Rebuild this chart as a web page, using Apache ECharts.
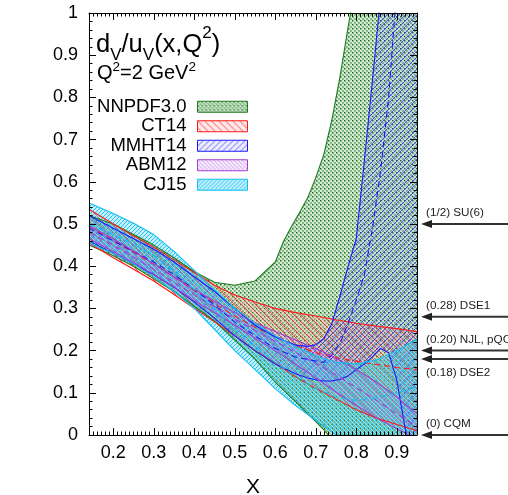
<!DOCTYPE html>
<html>
<head>
<meta charset="utf-8">
<script src="https://cdn.jsdelivr.net/npm/echarts@6/dist/echarts.min.js"></script>
<style>
  html, body { margin: 0; padding: 0; background: #fff; }
  #chart { width: 508px; height: 495px; }
</style>
</head>
<body>
<div id="chart"></div>
<script>
// d_V/u_V(x, Q^2) at Q^2 = 2 GeV^2 : uncertainty bands of five PDF sets

const X_MIN = 0.14, X_MAX = 0.95;
const xTicks = [0.2, 0.3, 0.4, 0.5, 0.6, 0.7, 0.8, 0.9];
const yTicks = [0, 0.1, 0.2, 0.3, 0.4, 0.5, 0.6, 0.7, 0.8, 0.9, 1];

// NNPDF3.0
const nnpdfX    = [0.14, 0.2, 0.25, 0.3, 0.35, 0.4, 0.45, 0.5, 0.55, 0.6, 0.62, 0.64, 0.66, 0.68, 0.7, 0.72, 0.74, 0.76, 0.78, 0.8, 0.85, 0.9, 0.95];
const nnpdfLow  = [0.45, 0.425, 0.40, 0.37, 0.34, 0.305, 0.27, 0.225, 0.18, 0.125, 0.107, 0.088, 0.07, 0.05, 0.032, 0.012, -0.01, -0.035, -0.06, -0.09, -0.15, -0.22, -0.3];
const nnpdfHigh = [0.52, 0.50, 0.475, 0.45, 0.42, 0.387, 0.362, 0.355, 0.365, 0.41, 0.458, 0.494, 0.527, 0.562, 0.61, 0.665, 0.748, 0.85, 0.968, 1.07, 1.4, 1.8, 2.2];

// CT14
const ct14X    = [0.14, 0.2, 0.25, 0.3, 0.35, 0.4, 0.45, 0.5, 0.55, 0.6, 0.65, 0.7, 0.75, 0.8, 0.85, 0.9, 0.95];
const ct14Low  = [0.455, 0.42, 0.393, 0.365, 0.333, 0.30, 0.268, 0.235, 0.2, 0.17, 0.138, 0.11, 0.085, 0.06, 0.04, 0.025, 0.01];
const ct14Mid  = [0.495, 0.46, 0.433, 0.405, 0.374, 0.343, 0.312, 0.282, 0.255, 0.235, 0.212, 0.195, 0.183, 0.175, 0.167, 0.16, 0.155];
const ct14High = [0.535, 0.50, 0.472, 0.445, 0.415, 0.385, 0.355, 0.332, 0.315, 0.30, 0.29, 0.282, 0.273, 0.265, 0.258, 0.252, 0.245];

// MMHT14
const mmhtX    = [0.14, 0.2, 0.25, 0.3, 0.35, 0.4, 0.45, 0.5, 0.55, 0.6, 0.65, 0.68, 0.7, 0.72, 0.74, 0.76, 0.78, 0.8, 0.82, 0.84, 0.86, 0.88, 0.9, 0.92, 0.95];
const mmhtLow  = [0.46, 0.43, 0.405, 0.38, 0.35, 0.315, 0.277, 0.235, 0.2, 0.168, 0.145, 0.135, 0.131, 0.128, 0.128, 0.132, 0.14, 0.155, 0.168, 0.185, 0.205, 0.195, 0.13, 0.02, -0.1];
const mmhtHigh = [0.52, 0.49, 0.465, 0.44, 0.41, 0.375, 0.34, 0.30, 0.26, 0.232, 0.213, 0.21, 0.214, 0.228, 0.265, 0.33, 0.40, 0.465, 0.65, 0.84, 1.04, 1.25, 1.5, 1.75, 2.1];
const mmhtMidX = [0.14, 0.2, 0.25, 0.3, 0.35, 0.4, 0.45, 0.5, 0.55, 0.6, 0.65, 0.7, 0.72, 0.74, 0.76, 0.78, 0.8, 0.82, 0.84, 0.86, 0.88, 0.9];
const mmhtMid  = [0.49, 0.46, 0.435, 0.41, 0.38, 0.345, 0.308, 0.268, 0.235, 0.205, 0.185, 0.175, 0.172, 0.19, 0.218, 0.265, 0.32, 0.38, 0.49, 0.625, 0.8, 1.06];

// ABM12
const abmX    = [0.14, 0.2, 0.25, 0.3, 0.35, 0.4, 0.45, 0.5, 0.55, 0.6, 0.65, 0.7, 0.75, 0.8, 0.85, 0.9, 0.95];
const abmLow  = [0.465, 0.435, 0.408, 0.38, 0.35, 0.318, 0.29, 0.26, 0.23, 0.2, 0.168, 0.135, 0.102, 0.07, 0.04, 0.015, -0.01];
const abmMid  = [0.48, 0.45, 0.422, 0.392, 0.362, 0.332, 0.303, 0.275, 0.248, 0.222, 0.196, 0.17, 0.142, 0.112, 0.082, 0.05, 0.02];
const abmHigh = [0.495, 0.465, 0.436, 0.405, 0.375, 0.345, 0.317, 0.29, 0.266, 0.245, 0.225, 0.205, 0.182, 0.155, 0.125, 0.09, 0.05];

// CJ15
const cjX    = [0.14, 0.2, 0.25, 0.3, 0.35, 0.4, 0.45, 0.5, 0.55, 0.6, 0.65, 0.7, 0.75, 0.8, 0.85, 0.9, 0.95];
const cjLow  = [0.455, 0.43, 0.405, 0.375, 0.34, 0.30, 0.25, 0.2, 0.155, 0.11, 0.07, 0.035, 0.0, -0.03, -0.06, -0.08, -0.1];
const cjMid  = [0.50, 0.475, 0.452, 0.425, 0.388, 0.345, 0.298, 0.25, 0.21, 0.172, 0.14, 0.11, 0.09, 0.082, 0.088, 0.1, 0.115];
const cjHigh = [0.55, 0.525, 0.502, 0.475, 0.435, 0.39, 0.345, 0.30, 0.265, 0.235, 0.21, 0.188, 0.172, 0.168, 0.178, 0.20, 0.228];

// model predictions for x -> 1
const refValues = [0.5, 0.28, 0.20, 0.18, 0];
const refLabels = ['(1/2) SU(6)', '(0.28) DSE1', '(0.20) NJL, pQCD', '(0.18) DSE2', '(0) CQM'];

const FONT = '"Liberation Sans", Arial, Helvetica, sans-serif';

// ---- fill patterns -------------------------------------------------------
function hatchTile(size, ink, haze, dir) {
  const c = document.createElement('canvas');
  c.width = c.height = size;
  const g = c.getContext('2d');
  if (haze) { g.fillStyle = haze; g.fillRect(0, 0, size, size); }
  g.fillStyle = ink;
  for (let i = 0; i < size; i++) {
    const y = dir === 'back' ? i : size - 1 - i;
    g.fillRect(i, y, 1, 1);
  }
  return { image: c, repeat: 'repeat' };
}
function crossTile() {
  const c = document.createElement('canvas');
  c.width = c.height = 4;
  const g = c.getContext('2d');
  g.fillStyle = 'rgba(110,180,110,0.30)';
  g.fillRect(0, 0, 4, 4);
  g.fillStyle = 'rgba(40,130,40,0.45)';
  g.fillRect(0, 0, 2, 2);
  g.fillRect(2, 2, 2, 2);
  g.fillStyle = 'rgba(10,90,10,0.9)';
  g.fillRect(0, 0, 1, 1);
  return { image: c, repeat: 'repeat' };
}

const sets = [
  { name: 'NNPDF3.0', x: nnpdfX, low: nnpdfLow, high: nnpdfHigh, color: '#1e7b1e', fill: crossTile() },
  { name: 'CT14', x: ct14X, low: ct14Low, high: ct14High, midX: ct14X, mid: ct14Mid, color: '#ff1a1a',
    fill: hatchTile(7, 'rgba(255,30,30,0.75)', 'rgba(255,150,150,0.22)', 'back') },
  { name: 'MMHT14', x: mmhtX, low: mmhtLow, high: mmhtHigh, midX: mmhtMidX, mid: mmhtMid, color: '#1a1aff',
    fill: hatchTile(6, 'rgba(40,40,255,0.7)', 'rgba(130,130,255,0.14)', 'fwd') },
  { name: 'ABM12', x: abmX, low: abmLow, high: abmHigh, midX: abmX, mid: abmMid, color: '#a23cd0',
    fill: hatchTile(4, 'rgba(170,70,220,0.55)', 'rgba(190,130,230,0.12)', 'back') },
  { name: 'CJ15', x: cjX, low: cjLow, high: cjHigh, midX: cjX, mid: cjMid, color: '#12bff0',
    fill: hatchTile(4, 'rgba(0,190,240,0.85)', 'rgba(90,210,250,0.35)', 'fwd') }
];

const zip = (xs, ys) => xs.map((x, i) => [x, ys[i]]);

const series = [];
// hatched bands: one closed polygon per set, lower edge forward, upper edge back
sets.forEach(s => {
  series.push({
    type: 'custom', name: s.name, clip: true, silent: true, z: 2,
    itemStyle: { color: s.color },
    data: s.x.map((x, i) => [x, s.low[i], s.high[i]]),
    encode: { x: 0, y: [1, 2] },
    renderItem(params, api) {
      if (params.dataIndex !== 0) return null;
      const pts = [];
      for (let i = 0; i < s.x.length; i++) pts.push(api.coord([s.x[i], s.low[i]]));
      for (let i = s.x.length - 1; i >= 0; i--) pts.push(api.coord([s.x[i], s.high[i]]));
      return { type: 'polygon', shape: { points: pts }, style: { fill: s.fill, stroke: null } };
    }
  });
});
// band edges and central curves
sets.forEach(s => {
  const edge = { color: s.color, width: 1.1 };
  series.push({ name: s.name + ' low', type: 'line', data: zip(s.x, s.low),
    showSymbol: false, silent: true, lineStyle: edge, z: 3 });
  series.push({ name: s.name + ' high', type: 'line', data: zip(s.x, s.high),
    showSymbol: false, silent: true, lineStyle: edge, z: 3 });
  if (s.mid) {
    series.push({ name: s.name + ' central', type: 'line', data: zip(s.midX, s.mid),
      showSymbol: false, silent: true, lineStyle: { color: s.color, width: 1.1, type: [6, 4] }, z: 3 });
  }
});

// arrows marking the x -> 1 predictions, outside the frame on the right
series.push({
  type: 'custom', name: 'predictions', silent: true, clip: false, z: 5,
  data: refValues.map(v => [X_MAX, v]),
  renderItem(params, api) {
    const v = api.value(1);
    const p = api.coord([api.value(0), v]);
    const tip = p[0] + 4, y = p[1], w = api.getWidth();
    const below = refValues.some(o => o > v && o - v < 0.05);
    return {
      type: 'group',
      children: [
        { type: 'line', shape: { x1: tip + 8, y1: y, x2: w, y2: y }, style: { stroke: '#333', lineWidth: 2 } },
        { type: 'polygon', shape: { points: [[tip, y], [tip + 11, y - 4], [tip + 11, y + 4]] }, style: { fill: '#222' } },
        { type: 'text', x: tip + 5, y: below ? y + 14 : y - 11,
          style: { text: refLabels[params.dataIndex], fill: '#222', fontSize: 11.7, fontFamily: FONT,
                   align: 'left', verticalAlign: 'middle' } }
      ]
    };
  }
});

const xMinor = [];
for (let k = 15; k <= 94; k++) if (k % 10 !== 0) xMinor.push(k / 100);

const axisLine = { show: true, lineStyle: { color: '#000', width: 1 } };
const xBase = { type: 'value', min: X_MIN, max: X_MAX, splitLine: { show: false }, z: 10 };
const yBase = { type: 'value', min: 0, max: 1, interval: 0.1, splitLine: { show: false }, z: 10 };

const option = {
  animation: false,
  backgroundColor: '#fff',
  grid: { left: 89, top: 13, width: 328, height: 422, containLabel: false, outerBoundsMode: 'none' },
  xAxis: [
    Object.assign({}, xBase, {
      position: 'bottom', axisLine,
      axisTick: { inside: true, length: 7, customValues: xTicks, lineStyle: { color: '#000' } },
      axisLabel: { customValues: xTicks, formatter: v => v.toFixed(1), fontSize: 18, fontFamily: FONT, color: '#000', margin: 9 },
      name: 'X', nameLocation: 'middle', nameGap: 42,
      nameTextStyle: { fontSize: 21, fontFamily: FONT, color: '#000' }
    }),
    Object.assign({}, xBase, {
      position: 'bottom', axisLine: { show: false },
      axisTick: { inside: true, length: 3.5, customValues: xMinor, lineStyle: { color: '#000' } },
      axisLabel: { show: false }
    }),
    Object.assign({}, xBase, {
      position: 'top', axisLine,
      axisTick: { inside: true, length: 7, customValues: xTicks, lineStyle: { color: '#000' } },
      axisLabel: { show: false }
    }),
    Object.assign({}, xBase, {
      position: 'top', axisLine: { show: false },
      axisTick: { inside: true, length: 3.5, customValues: xMinor, lineStyle: { color: '#000' } },
      axisLabel: { show: false }
    })
  ],
  yAxis: [
    Object.assign({}, yBase, {
      position: 'left', axisLine,
      axisTick: { inside: true, length: 7, customValues: yTicks, lineStyle: { color: '#000' } },
      minorTick: { show: true, splitNumber: 5, length: 3.5, lineStyle: { color: '#000' } },
      axisLabel: { customValues: yTicks, formatter: v => (v === 0 || v === 1) ? String(v) : v.toFixed(1),
                   fontSize: 18, fontFamily: FONT, color: '#000', margin: 11 }
    }),
    Object.assign({}, yBase, {
      position: 'right', axisLine,
      axisTick: { inside: true, length: 7, customValues: yTicks, lineStyle: { color: '#000' } },
      minorTick: { show: true, splitNumber: 5, length: 3.5, lineStyle: { color: '#000' } },
      axisLabel: { show: false }
    })
  ],
  legend: {
    orient: 'vertical', align: 'right', right: 260, top: 97, padding: 0, itemGap: 0,
    itemWidth: 50, itemHeight: 11, icon: 'rect', selectedMode: false,
    textStyle: { fontSize: 18.5, fontFamily: FONT, color: '#000', lineHeight: 19.5, padding: [0, 6, 0, 0] },
    data: sets.map(s => ({ name: s.name, icon: 'rect',
      itemStyle: { color: s.fill, borderColor: s.color, borderWidth: 1 } }))
  },
  graphic: [
    {
      type: 'text', left: 96, top: 25, z: 20,
      style: {
        text: '{m|d}{s|V}{m|/u}{s|V}{m|(x,Q}{p|2}{m|)}',
        rich: {
          m: { fontSize: 25.5, fontFamily: FONT, fill: '#000', lineHeight: 39, verticalAlign: 'middle' },
          s: { fontSize: 17, fontFamily: FONT, fill: '#000', lineHeight: 15, verticalAlign: 'bottom' },
          p: { fontSize: 17, fontFamily: FONT, fill: '#000', lineHeight: 35, verticalAlign: 'top' }
        }
      }
    },
    {
      type: 'text', left: 97, top: 60, z: 20,
      style: {
        text: '{m|Q}{p|2}{m|=2 GeV}{p|2}',
        rich: {
          m: { fontSize: 20, fontFamily: FONT, fill: '#000', lineHeight: 27, verticalAlign: 'middle' },
          p: { fontSize: 13.5, fontFamily: FONT, fill: '#000', lineHeight: 23, verticalAlign: 'top' }
        }
      }
    }
  ],
  series
};

const chart = echarts.init(document.getElementById('chart'), null, { renderer: 'canvas' });
chart.setOption(option);
</script>
</body>
</html>
